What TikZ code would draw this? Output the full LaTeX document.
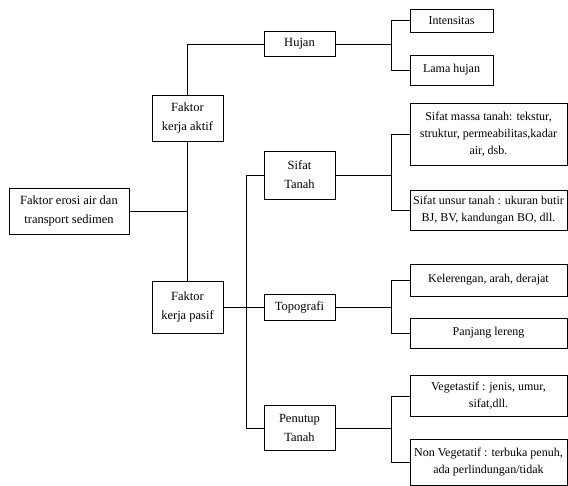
\documentclass[tikz,border=0pt]{standalone}
\usepackage{fontspec}
\setmainfont{Liberation Serif}
\usepackage{tikz}

\tikzset{
  kotak/.style={draw, line width=0.9pt, align=center, inner sep=2pt,
    font=\fontsize{12}{17}\selectfont},
  kotakkiri/.style={kotak, font=\fontsize{12.5}{19}\selectfont},
  garis/.style={line width=0.9pt},
}

\begin{document}
\begin{tikzpicture}[x=1pt,y=-1pt]
    \useasboundingbox (0,0) rectangle (568,486);

    % kolom kiri
    \node[kotakkiri, minimum width=120pt, minimum height=46pt] (erosi) at (69,211) {Faktor erosi air dan\\transport sedimen};
    \node[kotakkiri, minimum width=71pt, minimum height=46pt] (aktif) at (187.5,118) {Faktor\\kerja aktif};
    \node[kotakkiri, minimum width=71pt, minimum height=52pt] (pasif) at (187.5,307) {Faktor\\kerja pasif};

    % kolom tengah
    \node[kotakkiri, minimum width=71pt, minimum height=25pt] (hujan) at (299.5,44) {Hujan};
    \node[kotakkiri, minimum width=71pt, minimum height=48pt] (sifat) at (299.5,175) {Sifat\\Tanah};
    \node[kotakkiri, minimum width=71pt, minimum height=26pt] (topo) at (299.5,307) {Topografi};
    \node[kotakkiri, minimum width=71pt, minimum height=45pt] (penutup) at (299.5,428) {Penutup\\Tanah};

    % kolom kanan
    \node[kotak, minimum width=83pt, minimum height=23pt] (inten) at (451.5,20.5) {Intensitas};
    \node[kotak, minimum width=83pt, minimum height=30pt] (lama) at (451.5,70) {Lama hujan};
    \node[kotak, minimum width=157pt, minimum height=62pt] (massa) at (488.5,134) {Sifat massa tanah: tekstur,\\struktur, permeabilitas,kadar\\air, dsb.};
    \node[kotak, minimum width=157pt, minimum height=40pt] (unsur) at (488.5,210) {Sifat unsur tanah : ukuran butir\\BJ, BV, kandungan BO, dll.};
    \node[kotak, minimum width=157pt, minimum height=32pt] (lereng) at (488.5,280) {Kelerengan, arah, derajat};
    \node[kotak, minimum width=157pt, minimum height=30pt] (panjang) at (488.5,333) {Panjang lereng};
    \node[kotak, minimum width=157pt, minimum height=41pt] (veg) at (488.5,396) {Vegetastif : jenis, umur,\\sifat,dll.};
    \node[kotak, minimum width=157pt, minimum height=46pt] (nonveg) at (488.5,462) {Non Vegetatif : terbuka penuh,\\ada perlindungan/tidak};

    % garis penghubung
    \draw[garis] (hujan.west) -| (aktif.north);
    \draw[garis] (aktif.south) -- (pasif.north);
    \draw[garis] (erosi.east) -- (erosi.east -| aktif.south);
    \draw[garis] (pasif.east) -- (topo.west);
    \draw[garis] (sifat.west) -- ++(-17,0) |- (penutup.west);

    \foreach \induk/\atas/\bawah in {hujan/inten/lama, sifat/massa/unsur, topo/lereng/panjang, penutup/veg/nonveg}{
        \draw[garis] (\atas.west) -- ++(-18,0) |- (\bawah.west);
        \draw[garis] (\induk.east) -- ([xshift=-18pt]\atas.west |- \induk.east);
    }

\end{tikzpicture}
\end{document}
